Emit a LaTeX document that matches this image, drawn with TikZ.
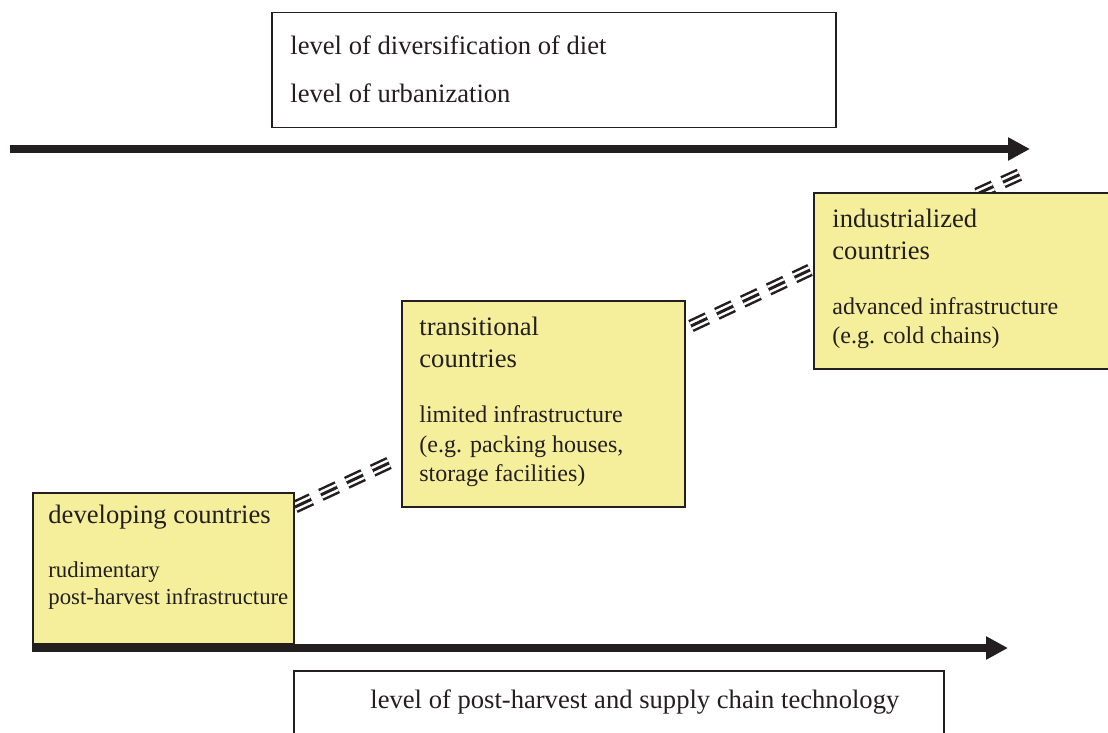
\documentclass[tikz,border=0pt]{standalone}
\usepackage{fontspec}
\setmainfont{Liberation Serif}
\usetikzlibrary{arrows.meta,backgrounds}

\definecolor{ink}{HTML}{231F20}
\definecolor{paleyellow}{HTML}{F5EE9B}

\begin{document}
\begin{tikzpicture}[x=0.5pt,y=-0.5pt,
  yellowbox/.style={draw=ink,fill=paleyellow,line width=1pt,inner sep=0pt,anchor=north west},
  whitebox/.style={draw=ink,fill=white,line width=0.75pt,inner sep=0pt,anchor=north west},
  headtext/.style={font=\fontsize{13.3}{16}\selectfont,text=ink,inner sep=0pt,anchor=base west},
  notetext/.style={font=\fontsize{12}{14}\selectfont,text=ink,inner sep=0pt,anchor=base west},
  smallnote/.style={notetext,font=\fontsize{11.4}{14}\selectfont},
  bigarrow/.style={draw=ink,line width=4pt,-{Triangle[length=11pt,width=11pt]}},
  rail/.style={draw=ink,line width=6.5pt,dash pattern=on 9pt off 5.3pt,
    postaction={draw=white,line width=4pt,dash pattern=on 9pt off 5.3pt},
    postaction={draw=ink,line width=1.5pt,dash pattern=on 9pt off 5.3pt}}]
\useasboundingbox (0,0) rectangle (1108,733);

% boxes
\node[whitebox,minimum width=282pt,minimum height=57.5pt] (drivers) at (271,12) {};
\node[whitebox,minimum width=325pt,minimum height=40pt] (techbox) at (293,670) {};
\node[yellowbox,minimum width=130.5pt,minimum height=75.5pt] (dev) at (32,492) {};
\node[yellowbox,minimum width=141.5pt,minimum height=103pt] (trans) at (401,300) {};
\node[yellowbox,minimum width=152pt,minimum height=88pt] (ind) at (813,192) {};

% texts
\node[headtext] (diet) at ([shift={(19,43)}]drivers.north west) {level of diversification of diet};
\node[headtext] (urban) at ([shift={(19,91)}]drivers.north west) {level of urbanization};
\node[headtext] (tech) at ([shift={(77,38)}]techbox.north west) {level of post-harvest and supply chain technology};

\node[headtext] (devhead) at ([shift={(16,31)}]dev.north west) {developing countries};
\node[smallnote] (devnoteA) at ([shift={(16,85)}]dev.north west) {rudimentary};
\node[smallnote] (devnoteB) at ([shift={(16,112)}]dev.north west) {post-harvest infrastructure};

\node[headtext] (transheadA) at ([shift={(18,35)}]trans.north west) {transitional};
\node[headtext] (transheadB) at ([shift={(18,67)}]trans.north west) {countries};
\node[notetext] (transnoteA) at ([shift={(18,122)}]trans.north west) {limited infrastructure};
\node[notetext] (transnoteB) at ([shift={(18,152)}]trans.north west) {(e.g. packing houses,};
\node[notetext] (transnoteC) at ([shift={(18,181)}]trans.north west) {storage facilities)};

\node[headtext] (indheadA) at ([shift={(19,35)}]ind.north west) {industrialized};
\node[headtext] (indheadB) at ([shift={(19,67)}]ind.north west) {countries};
\node[notetext] (indnoteA) at ([shift={(19,122)}]ind.north west) {advanced infrastructure};
\node[notetext] (indnoteB) at ([shift={(19,151)}]ind.north west) {(e.g. cold chains)};

% axes
\coordinate (topstart) at (10,149);
\coordinate (topend) at (1030,149);
\coordinate (botstart) at (32,648);
\coordinate (botend) at (1008,648);
\draw[bigarrow] (topstart) -- (topend);
\draw[bigarrow] (botstart) -- (botend);

% links between stages
\coordinate (future) at (1021,174);
\begin{pgfonlayer}{background}
\draw[rail] ([shift={(0,15)}]dev.north east) -- ([shift={(-12,59)}]trans.west);
\draw[rail] ([shift={(5,26)}]trans.north east) -- ([shift={(-3,78)}]ind.north west);
\draw[rail] ([shift={(164,2)}]ind.north west) -- (future);
\end{pgfonlayer}
\end{tikzpicture}
\end{document}
